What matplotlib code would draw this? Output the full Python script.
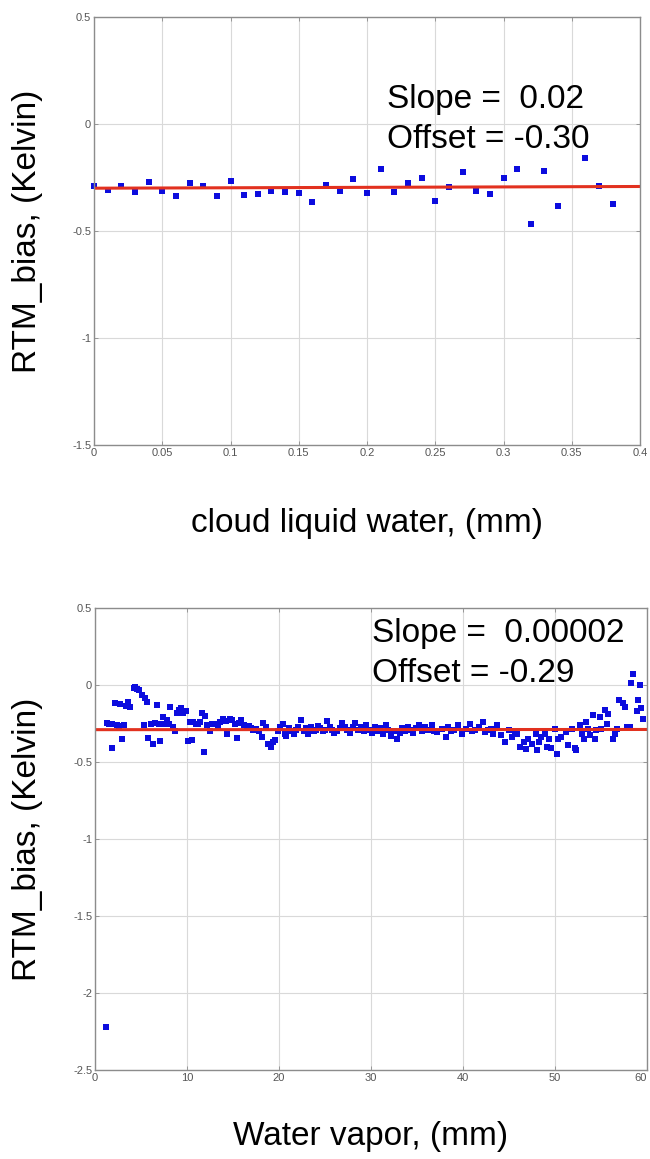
import matplotlib
matplotlib.use("Agg")
import matplotlib.pyplot as plt
import numpy as np

plt.rcParams['font.family'] = ['Liberation Sans', 'DejaVu Sans']

# ---- cloud liquid water panel ----
clw_x = [0.00, 0.01, 0.02, 0.03, 0.04, 0.05, 0.06, 0.07, 0.08, 0.09,
         0.10, 0.11, 0.12, 0.13, 0.14, 0.15, 0.16, 0.17, 0.18, 0.19,
         0.20, 0.21, 0.22, 0.23, 0.24, 0.25, 0.26, 0.27, 0.28, 0.29,
         0.30, 0.31, 0.32, 0.33, 0.34, 0.36, 0.37, 0.38]
clw_bias = [-0.289, -0.310, -0.289, -0.316, -0.272, -0.313, -0.338, -0.275, -0.292, -0.338,
            -0.267, -0.330, -0.326, -0.313, -0.318, -0.321, -0.364, -0.284, -0.313, -0.256,
            -0.321, -0.210, -0.318, -0.275, -0.252, -0.361, -0.293, -0.223, -0.313, -0.326,
            -0.251, -0.210, -0.465, -0.220, -0.385, -0.157, -0.292, -0.375]
clw_slope, clw_offset = 0.02, -0.30

# ---- water vapor panel ----
wv_x = [1.2,
        1.3, 1.5, 1.8, 1.9, 2.2, 2.4, 2.6, 2.7, 2.9, 3.2, 3.4, 3.6, 3.8,
        4.2, 4.4, 4.6, 4.8, 5.1, 5.3, 5.4, 5.6, 5.8, 6.1, 6.3, 6.5, 6.7,
        7.0, 7.1, 7.4, 7.6, 7.8, 8.0, 8.2, 8.5, 8.7, 8.9, 9.1, 9.3, 9.6,
        9.9, 10.1, 10.3, 10.5, 10.7, 11.0, 11.2, 11.4, 11.6, 11.8, 12.0,
        12.2, 12.5, 12.7, 12.9, 13.2, 13.4, 13.6, 13.9, 14.2, 14.4, 14.7,
        14.9, 15.2, 15.4, 15.7, 15.9, 16.2, 16.5, 16.7, 17.0, 17.2, 17.5,
        17.8, 18.1, 18.3, 18.6, 18.8, 19.1, 19.4, 19.6, 19.9, 20.1, 20.4,
        20.6, 20.8, 21.1, 21.3, 21.6, 21.9, 22.1, 22.4, 22.7, 22.9, 23.2,
        23.5, 23.8, 24.0, 24.2, 24.5, 24.8, 25.0, 25.2, 25.5, 25.8, 26.0,
        26.3, 26.6, 26.9, 27.2, 27.4, 27.7, 28.0, 28.3, 28.6, 28.9, 29.2,
        29.5, 29.8, 30.1, 30.4, 30.7, 31.0, 31.3, 31.6, 31.9, 32.2, 32.5,
        32.8, 33.1, 33.4, 33.7, 34.0, 34.3, 34.6, 34.9, 35.2, 35.5, 35.9,
        36.2, 36.6, 36.9, 37.2, 37.7, 38.1, 38.4, 38.7, 39.0, 39.5, 39.9,
        40.3, 40.8, 41.0, 41.3, 41.7, 42.2, 42.4, 42.7, 43.0, 43.3, 43.7,
        44.1, 44.6, 45.0, 45.3, 45.6, 45.9, 46.2, 46.6, 46.8, 47.1, 47.5,
        47.9, 48.0, 48.3, 48.5, 48.9, 49.1, 49.4, 49.6, 50.0, 50.2, 50.3,
        50.7, 51.2, 51.4, 51.8, 52.2, 52.3, 52.7, 52.9, 53.2, 53.4, 53.6,
        53.8, 54.1, 54.3, 54.5, 54.9, 55.0, 55.4, 55.6, 55.8, 56.3, 56.5,
        56.7, 57.0, 57.4, 57.6, 57.8, 58.1, 58.3, 58.5, 58.9, 59.0, 59.2,
        59.4, 59.6]
wv_bias = [-2.22,
           -0.245, -0.255, -0.410, -0.255, -0.120, -0.260, -0.265, -0.125, -0.350, -0.260, -0.135, -0.110, -0.140,
           -0.020, -0.015, -0.025, -0.035, -0.065, -0.260, -0.085, -0.110, -0.345, -0.250, -0.380, -0.245, -0.130,
           -0.250, -0.365, -0.205, -0.250, -0.230, -0.255, -0.140, -0.270, -0.300, -0.180, -0.165, -0.150, -0.185,
           -0.170, -0.365, -0.240, -0.355, -0.240, -0.250, -0.255, -0.240, -0.185, -0.435, -0.200,
           -0.260, -0.300, -0.250, -0.250, -0.250, -0.275, -0.240, -0.220, -0.235, -0.320, -0.220,
           -0.230, -0.255, -0.345, -0.245, -0.230, -0.260, -0.270, -0.265, -0.280, -0.290, -0.285,
           -0.300, -0.340, -0.245, -0.270, -0.385, -0.400, -0.370, -0.355, -0.300, -0.270, -0.255,
           -0.320, -0.330, -0.280, -0.300, -0.315, -0.290, -0.270, -0.230, -0.300, -0.280, -0.315,
           -0.270, -0.300, -0.290, -0.265, -0.280, -0.300, -0.290, -0.235, -0.270, -0.290, -0.310,
           -0.300, -0.280, -0.245, -0.270, -0.290, -0.310, -0.270, -0.245, -0.290, -0.270, -0.300,
           -0.260, -0.290, -0.310, -0.270, -0.300, -0.280, -0.320, -0.260, -0.290, -0.330, -0.300,
           -0.350, -0.310, -0.280, -0.300, -0.270, -0.290, -0.310, -0.280, -0.260, -0.300, -0.273,
           -0.290, -0.262, -0.300, -0.305, -0.284, -0.338, -0.273, -0.300, -0.294, -0.262, -0.316,
           -0.284, -0.251, -0.300, -0.294, -0.273, -0.240, -0.305, -0.290, -0.284, -0.316, -0.262,
           -0.327, -0.370, -0.294, -0.338, -0.300, -0.316, -0.400, -0.370, -0.413, -0.348, -0.380,
           -0.316, -0.424, -0.370, -0.340, -0.316, -0.400, -0.350, -0.410, -0.283, -0.446, -0.350,
           -0.340, -0.305, -0.390, -0.283, -0.410, -0.420, -0.260, -0.316, -0.350, -0.240, -0.283,
           -0.327, -0.197, -0.350, -0.294, -0.207, -0.283, -0.164, -0.250, -0.186, -0.350, -0.316,
           -0.283, -0.100, -0.120, -0.143, -0.273, -0.273, 0.010, 0.074, -0.170, -0.100, 0.000,
           -0.150, -0.220]
wv_slope, wv_offset = 0.00002, -0.29

MARK = '#0c0cde'
LINE = '#e2311f'
GRID = '#d9d9d9'
SPINE = '#8c8c8c'
BIG = 24


def style_axes(ax):
    ax.grid(True, color=GRID, linewidth=0.8)
    ax.set_axisbelow(True)
    for s in ax.spines.values():
        s.set_color(SPINE)
        s.set_linewidth(1.0)
    ax.tick_params(direction='in', length=3, width=0.6, colors=SPINE,
                   labelcolor='#555555', labelsize=8, top=True, right=True, pad=2)


fig = plt.figure(figsize=(6.5, 11.59), dpi=100)
W, H = 650.0, 1159.0

# top panel
ax1 = fig.add_axes([94 / W, 1 - 445 / H, (640 - 94) / W, (445 - 17) / H])
style_axes(ax1)
ax1.plot(clw_x, clw_bias, 's', color=MARK, markersize=4.0, markeredgewidth=0,
         clip_on=False)
lx = np.array([0.0, 0.4])
ax1.plot(lx, clw_offset + clw_slope * lx, color=LINE, linewidth=2.2)
ax1.set_xlim(0, 0.4)
ax1.set_ylim(-1.5, 0.5)
ax1.set_xticks(np.arange(0, 0.401, 0.05))
ax1.set_xticklabels(['0', '0.05', '0.1', '0.15', '0.2', '0.25', '0.3', '0.35', '0.4'])
ax1.set_yticks([-1.5, -1, -0.5, 0, 0.5])
ax1.set_yticklabels(['-1.5', '-1', '-0.5', '0', '0.5'])
ax1.text(0.537, 0.787, 'Slope =  %.2f' % clw_slope, transform=ax1.transAxes,
         fontsize=BIG, va='baseline', ha='left')
ax1.text(0.537, 0.694, 'Offset = %.2f' % clw_offset, transform=ax1.transAxes,
         fontsize=BIG, va='baseline', ha='left')
ax1.set_xlabel('cloud liquid water, (mm)', fontsize=BIG)
ax1.xaxis.set_label_coords(0.5, (445 - 532) / 428)
ax1.xaxis.label.set_va('baseline')
ax1.set_ylabel('RTM_bias, (Kelvin)', fontsize=BIG)
ax1.yaxis.set_label_coords((28 - 94) / 546, 0.5)
ax1.yaxis.label.set_va('center')

# bottom panel
ax2 = fig.add_axes([95 / W, 1 - 1070 / H, (647 - 95) / W, (1070 - 608) / H])
style_axes(ax2)
ax2.plot(wv_x, wv_bias, 's', color=MARK, markersize=4.0, markeredgewidth=0,
         clip_on=False)
lx2 = np.array([0.0, 60.0])
ax2.plot(lx2, wv_offset + wv_slope * lx2, color=LINE, linewidth=2.2)
ax2.set_xlim(0, 60)
ax2.set_ylim(-2.5, 0.5)
ax2.set_xticks(np.arange(0, 61, 10))
ax2.set_yticks(np.arange(-2.5, 0.51, 0.5))
ax2.set_yticklabels(['-2.5', '-2', '-1.5', '-1', '-0.5', '0', '0.5'])
# keep the last tick label inside the figure edge
ax2.get_xticklabels()[-1].set_horizontalalignment('right')
ax2.text(0.502, 0.926, 'Slope =  %.5f' % wv_slope, transform=ax2.transAxes,
         fontsize=BIG, va='baseline', ha='left')
ax2.text(0.502, 0.84, 'Offset = %.2f' % wv_offset, transform=ax2.transAxes,
         fontsize=BIG, va='baseline', ha='left')
ax2.set_xlabel('Water vapor, (mm)', fontsize=BIG)
ax2.xaxis.set_label_coords(0.5, (1070 - 1145) / 462)
ax2.xaxis.label.set_va('baseline')
ax2.set_ylabel('RTM_bias, (Kelvin)', fontsize=BIG)
ax2.yaxis.set_label_coords((28 - 95) / 552, 0.5)
ax2.yaxis.label.set_va('center')

fig.savefig('out.png', dpi=100)
